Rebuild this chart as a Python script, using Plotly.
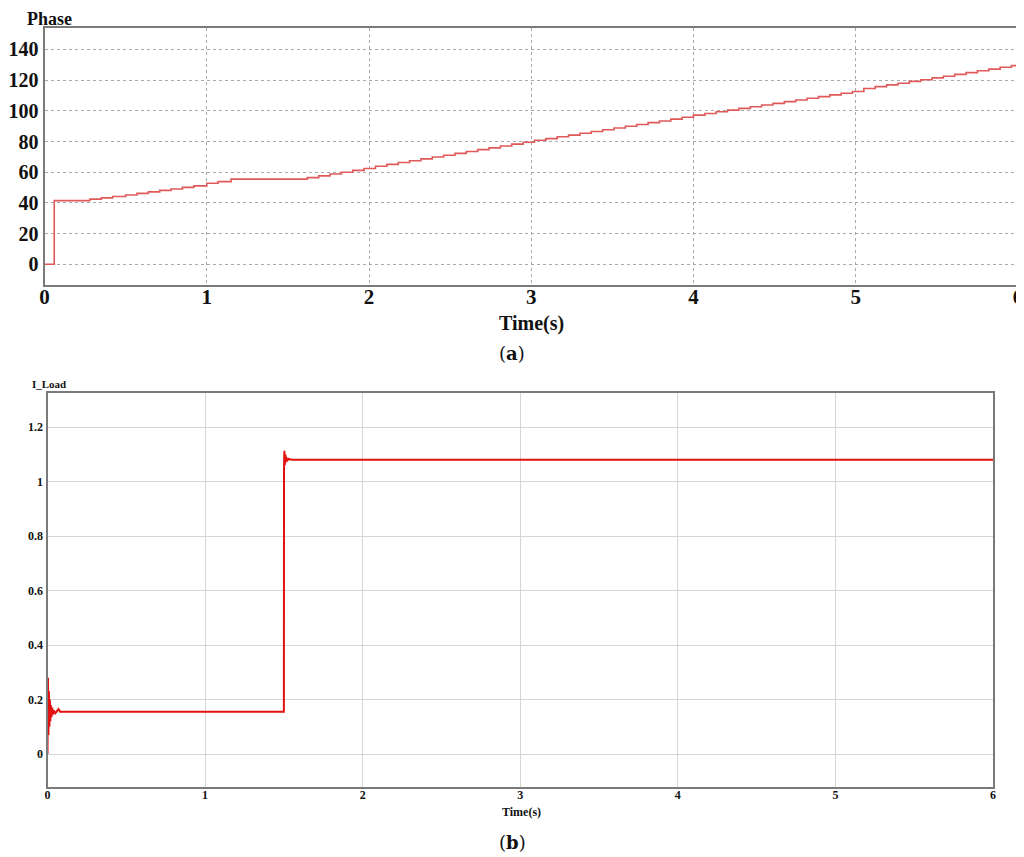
import plotly.graph_objects as go

# ---- Data (a) Phase ----
phase_t = [0.0, 0.06, 0.1, 0.2, 0.28, 0.35, 0.42, 0.5, 0.57, 0.64, 0.71, 0.78, 0.85, 0.92, 1.0,
           1.07, 1.15, 1.3, 1.45, 1.55, 1.62, 1.69, 1.76, 1.83, 1.9, 1.97,
           2.04, 2.11, 2.18, 2.25, 2.32, 2.39, 2.46, 2.53, 2.6, 2.67, 2.74, 2.81, 2.88, 2.95,
           3.02, 3.09, 3.16, 3.23, 3.3, 3.37, 3.44, 3.51, 3.58, 3.65, 3.72, 3.79, 3.86, 3.93,
           4.0, 4.07, 4.14, 4.21, 4.28, 4.35, 4.42, 4.49, 4.56, 4.63, 4.7, 4.77, 4.84, 4.91,
           4.98, 5.05, 5.12, 5.19, 5.26, 5.33, 5.4, 5.47, 5.54, 5.61, 5.68, 5.75, 5.82, 5.89,
           5.96, 6.0]
phase_v = [0.0, 41.5, 41.5, 41.5, 42.5, 43.3, 44.2, 45.2, 46.2, 47.2, 48.2, 49.1, 50.1, 51.1, 52.8,
           53.9, 55.5, 55.5, 55.5, 55.5, 56.5, 57.6, 58.8, 60.0, 61.2, 62.4,
           63.9, 65.1, 66.3, 67.5, 68.7, 69.9, 71.1, 72.3, 73.5, 74.7, 75.9, 77.1, 78.3, 79.5,
           80.8, 81.9, 83.1, 84.2, 85.4, 86.5, 87.7, 88.8, 90.0, 91.1, 92.3, 93.4, 94.6, 95.8,
           97.2, 98.3, 99.4, 100.5, 101.6, 102.7, 103.8, 104.9, 106.0, 107.1, 108.2, 109.3, 110.4, 111.5,
           112.6, 114.6, 115.8, 116.9, 118.0, 119.2, 120.3, 121.5, 122.6, 123.8, 124.9, 126.1, 127.2, 128.4,
           129.5, 130.2]

# ---- Data (b) I_Load ----
iload_t = [0.0, 0.003, 0.006, 0.009, 0.012, 0.015, 0.018, 0.021, 0.025, 0.03, 0.035, 0.04, 0.05,
           0.06, 0.07, 0.08, 1.5, 1.501, 1.503, 1.506, 1.509, 1.512, 1.515, 1.52, 1.53, 1.55, 6.0]
iload_v = [0.0, 0.28, 0.07, 0.23, 0.10, 0.20, 0.12, 0.18, 0.135, 0.17, 0.145, 0.16, 0.15,
           0.157, 0.165, 0.155, 0.155, 1.05, 1.113, 1.06, 1.10, 1.07, 1.09, 1.075, 1.083, 1.08, 1.08]

x_ticks = [0, 1, 2, 3, 4, 5, 6]
phase_ticks = [0, 20, 40, 60, 80, 100, 120, 140]
iload_ticks = [0, 0.2, 0.4, 0.6, 0.8, 1.0, 1.2]
iload_ticktext = ["0", "0.2", "0.4", "0.6", "0.8", "1", "1.2"]

OFF = 8  # default page body margin
W, H = 1024 - OFF, 857 - OFF
SERIF = "Liberation Serif, Times New Roman, serif"

def px(x):
    return (x - OFF) / W

def py(y):
    return 1 - (y - OFF) / H

fig = go.Figure()
fig.add_trace(go.Scatter(x=phase_t, y=phase_v, mode="lines", line_shape="hv",
                         line=dict(color="#e05a5a", width=1.6), xaxis="x", yaxis="y",
                         showlegend=False))
fig.add_trace(go.Scatter(x=iload_t, y=iload_v, mode="lines",
                         line=dict(color="#e31010", width=2), xaxis="x2", yaxis="y2",
                         showlegend=False))

frame = dict(showline=True, mirror=True, linecolor="#7a7a7a", linewidth=2, zeroline=False,
             ticks="", ticklen=0, automargin=False)

fig.update_layout(
    width=W, height=H, margin=dict(l=0, r=0, t=0, b=0, pad=0),
    paper_bgcolor="white", plot_bgcolor="white",
    xaxis=dict(domain=[px(44.5), px(1018)], range=[0, 6], tickvals=x_ticks,
               showgrid=True, gridcolor="#a8a8a8", griddash="dot", gridwidth=1,
               tickfont=dict(family=SERIF, size=21, color="#111", weight="bold"),
               anchor="y", ticklabelstandoff=-8, **frame),
    yaxis=dict(domain=[py(285), py(28)], range=[-13.5, 154], tickvals=phase_ticks,
               showgrid=True, gridcolor="#a8a8a8", griddash="dot", gridwidth=1,
               tickfont=dict(family=SERIF, size=20, color="#111", weight="bold"),
               anchor="x", ticklabelstandoff=0, **frame),
    xaxis2=dict(domain=[px(47.5), px(993)], range=[0, 6], tickvals=x_ticks,
                showgrid=True, gridcolor="#d6d6d6", gridwidth=1,
                tickfont=dict(family=SERIF, size=12, color="#111", weight="bold"),
                anchor="y2", ticklabelstandoff=-4, **frame),
    yaxis2=dict(domain=[py(787), py(393)], range=[-0.121, 1.325], tickvals=iload_ticks,
                ticktext=iload_ticktext,
                showgrid=True, gridcolor="#d6d6d6", gridwidth=1,
                tickfont=dict(family=SERIF, size=12, color="#111", weight="bold"),
                anchor="x2", ticklabelstandoff=0, **frame),
    annotations=[
        dict(text="Phase", x=px(26), y=py(8), xref="paper", yref="paper", showarrow=False,
             xanchor="left", yanchor="top", borderpad=0,
             font=dict(family=SERIF, size=18, color="#111", weight="bold")),
        dict(text="Time(s)", x=px(531), y=py(323), xref="paper", yref="paper", showarrow=False,
             xanchor="center", yanchor="middle",
             font=dict(family=SERIF, size=20, color="#111", weight="bold")),
        dict(text="(<b>a</b>)", x=px(512), y=py(353), xref="paper", yref="paper", showarrow=False,
             xanchor="center", yanchor="middle",
             font=dict(family="DejaVu Serif, serif", size=18, color="#111")),
        dict(text="I_Load", x=px(30), y=py(384), xref="paper", yref="paper", showarrow=False,
             xanchor="left", yanchor="middle",
             font=dict(family=SERIF, size=11, color="#111", weight="bold")),
        dict(text="Time(s)", x=px(521), y=py(812), xref="paper", yref="paper", showarrow=False,
             xanchor="center", yanchor="middle",
             font=dict(family=SERIF, size=12, color="#111", weight="bold")),
        dict(text="(<b>b</b>)", x=px(512), y=py(842), xref="paper", yref="paper", showarrow=False,
             xanchor="center", yanchor="middle",
             font=dict(family="DejaVu Serif, serif", size=18, color="#111")),
    ],
)

fig.write_html("out.html")
